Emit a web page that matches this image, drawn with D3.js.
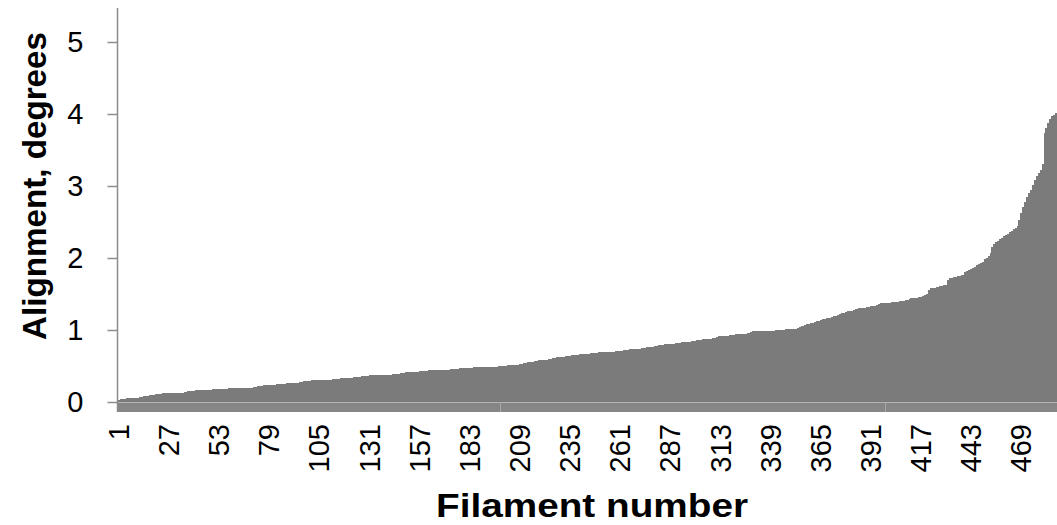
<!DOCTYPE html>
<html>
<head>
<meta charset="utf-8">
<script src="https://cdn.jsdelivr.net/npm/d3@7/dist/d3.min.js"></script>
<style>
  html, body { margin: 0; padding: 0; background: #fff; }
  svg { display: block; }
  text { font-family: "Liberation Sans", Arial, sans-serif; fill: #000; }
</style>
</head>
<body>
<svg id="chart" width="1057" height="525"></svg>
<script>
// Sorted alignment values (degrees), one per filament (1..487)
const alignment = [
  0.03,0.04,0.04,0.04,0.05,0.05,0.05,0.05,0.06,0.06,
  0.06,0.07,0.07,0.08,0.09,0.09,0.10,0.10,0.10,0.11,
  0.11,0.11,0.11,0.12,0.12,0.12,0.12,0.12,0.12,0.13,
  0.13,0.13,0.13,0.13,0.14,0.14,0.15,0.15,0.15,0.15,
  0.16,0.16,0.16,0.16,0.17,0.17,0.17,0.17,0.17,0.18,
  0.18,0.18,0.18,0.18,0.18,0.18,0.18,0.19,0.19,0.19,
  0.19,0.19,0.19,0.19,0.19,0.20,0.20,0.20,0.20,0.20,
  0.21,0.21,0.22,0.22,0.22,0.23,0.23,0.23,0.24,0.24,
  0.24,0.24,0.25,0.25,0.25,0.25,0.25,0.26,0.26,0.26,
  0.26,0.27,0.27,0.27,0.28,0.28,0.29,0.29,0.29,0.29,
  0.30,0.30,0.30,0.30,0.30,0.30,0.30,0.31,0.31,0.31,
  0.31,0.32,0.32,0.32,0.32,0.33,0.33,0.33,0.33,0.34,
  0.34,0.34,0.35,0.35,0.35,0.35,0.36,0.36,0.36,0.36,
  0.37,0.37,0.37,0.37,0.37,0.38,0.38,0.38,0.38,0.38,
  0.38,0.38,0.39,0.39,0.39,0.39,0.40,0.40,0.40,0.41,
  0.41,0.41,0.42,0.42,0.42,0.42,0.43,0.43,0.43,0.43,
  0.43,0.44,0.44,0.44,0.44,0.44,0.44,0.45,0.45,0.45,
  0.45,0.45,0.46,0.46,0.46,0.46,0.46,0.47,0.47,0.47,
  0.47,0.47,0.47,0.47,0.48,0.48,0.48,0.48,0.48,0.48,
  0.49,0.49,0.49,0.49,0.49,0.49,0.49,0.50,0.50,0.50,
  0.50,0.50,0.51,0.51,0.51,0.52,0.52,0.52,0.53,0.53,
  0.54,0.54,0.55,0.55,0.56,0.56,0.57,0.57,0.58,0.58,
  0.58,0.59,0.59,0.60,0.60,0.61,0.61,0.62,0.62,0.63,
  0.63,0.63,0.64,0.64,0.64,0.65,0.65,0.65,0.65,0.66,
  0.66,0.66,0.67,0.67,0.67,0.68,0.68,0.68,0.68,0.69,
  0.69,0.69,0.69,0.70,0.70,0.70,0.70,0.70,0.71,0.71,
  0.71,0.71,0.72,0.72,0.72,0.73,0.73,0.73,0.74,0.74,
  0.74,0.75,0.75,0.75,0.76,0.76,0.77,0.77,0.78,0.78,
  0.79,0.79,0.79,0.80,0.80,0.80,0.81,0.81,0.81,0.82,
  0.82,0.82,0.83,0.83,0.83,0.84,0.84,0.85,0.85,0.85,
  0.86,0.86,0.86,0.87,0.87,0.87,0.88,0.88,0.89,0.89,
  0.90,0.91,0.91,0.91,0.92,0.92,0.92,0.93,0.93,0.93,
  0.94,0.94,0.94,0.95,0.95,0.95,0.96,0.96,0.97,0.98,
  0.98,0.98,0.98,0.98,0.98,0.99,0.99,0.99,0.99,0.99,
  0.99,1.00,1.00,1.00,1.00,1.00,1.01,1.01,1.01,1.01,
  1.01,1.02,1.03,1.04,1.05,1.06,1.07,1.08,1.09,1.10,
  1.10,1.11,1.12,1.13,1.14,1.15,1.15,1.16,1.16,1.17,
  1.18,1.19,1.20,1.21,1.22,1.23,1.24,1.25,1.26,1.27,
  1.27,1.28,1.29,1.29,1.30,1.30,1.31,1.31,1.32,1.32,
  1.33,1.33,1.34,1.35,1.36,1.37,1.37,1.37,1.38,1.38,
  1.38,1.39,1.39,1.39,1.39,1.40,1.40,1.40,1.41,1.42,
  1.43,1.44,1.44,1.45,1.45,1.46,1.46,1.47,1.48,1.50,
  1.55,1.58,1.59,1.59,1.60,1.60,1.61,1.61,1.62,1.63,
  1.70,1.72,1.72,1.73,1.74,1.75,1.75,1.76,1.77,1.80,
  1.82,1.84,1.85,1.86,1.88,1.90,1.92,1.93,1.95,1.98,
  2.00,2.03,2.07,2.15,2.20,2.22,2.24,2.26,2.28,2.30,
  2.32,2.34,2.36,2.38,2.40,2.42,2.45,2.53,2.62,2.71,
  2.78,2.85,2.90,2.95,3.01,3.08,3.14,3.18,3.22,3.31,
  3.73,3.80,3.87,3.93,3.97,3.99,4.01
];
const filaments = alignment.map((d, i) => i + 1);
const xTickLabels = [1, 27, 53, 79, 105, 131, 157, 183, 209, 235, 261, 287, 313, 339, 365, 391, 417, 443, 469];
const yTickValues = [0, 1, 2, 3, 4, 5];
const yTitle = "Alignment, degrees";
const xTitle = "Filament number";

const svg = d3.select("#chart");
const plotLeft = 118, plotRight = 1057;
const y0px = 402, pxPerUnit = 72;

const x = d3.scaleBand().domain(filaments).range([plotLeft, plotRight]).padding(0);
const y = d3.scaleLinear().domain([0, 5]).range([y0px, y0px - 5 * pxPerUnit]);
const yMin = y.invert(412), yMax = y.invert(8);

// floor band below zero (bars extend down to axis minimum)
svg.append("rect")
  .attr("x", plotLeft).attr("y", y(0))
  .attr("width", plotRight - plotLeft).attr("height", y(yMin) - y(0))
  .attr("fill", "#868686");

// bars
svg.append("g").attr("shape-rendering", "crispEdges")
  .selectAll("rect").data(alignment).join("rect")
  .attr("x", (d, i) => x(filaments[i]))
  .attr("width", x.bandwidth() + 0.6)
  .attr("y", d => y(d))
  .attr("height", d => y(0) - y(d))
  .attr("fill", "#7b7b7b");

// zero line
svg.append("line")
  .attr("x1", plotLeft).attr("x2", plotRight)
  .attr("y1", y(0) + 0.5).attr("y2", y(0) + 0.5)
  .attr("stroke", "#b4b4b4").attr("stroke-width", 1);

// category tick marks (every 200 categories)
svg.append("g").selectAll("line").data([200, 400]).join("line")
  .attr("x1", d => Math.round(x(d)) - 1.5).attr("x2", d => Math.round(x(d)) - 1.5)
  .attr("y1", y(0)).attr("y2", y(yMin))
  .attr("stroke", "#a8a8a8").attr("stroke-width", 1);

// y axis
const yAxis = d3.axisLeft(y).tickValues(yTickValues).tickSize(10).tickPadding(24).tickFormat(d3.format("d"));
const gy = svg.append("g").attr("transform", `translate(${plotLeft - 0.5},0)`).call(yAxis);
gy.select(".domain").remove();
gy.append("line").attr("x1", 0).attr("x2", 0).attr("y1", 8).attr("y2", 412)
  .attr("stroke", "#8c8c8c").attr("stroke-width", 1.5);
gy.selectAll(".tick line").attr("stroke", "#8c8c8c").attr("stroke-width", 1.5);
gy.selectAll(".tick text").attr("font-size", 29).attr("font-family", "Liberation Sans, Arial, sans-serif").attr("fill", "#000");

// x tick labels
svg.append("g").selectAll("text").data(xTickLabels).join("text")
  .attr("transform", d => `translate(${x(d) + x.bandwidth() / 2 + 10},424) rotate(-90)`)
  .attr("text-anchor", "end")
  .attr("font-size", 29)
  .text(d => d);

// axis titles
svg.append("text")
  .attr("transform", "translate(46,186) rotate(-90)")
  .attr("text-anchor", "middle")
  .attr("font-size", 34).attr("font-weight", "bold")
  .attr("textLength", 308).attr("lengthAdjust", "spacingAndGlyphs")
  .text(yTitle);

svg.append("text")
  .attr("x", 592).attr("y", 517)
  .attr("text-anchor", "middle")
  .attr("font-size", 34).attr("font-weight", "bold")
  .attr("textLength", 312).attr("lengthAdjust", "spacingAndGlyphs")
  .text(xTitle);
</script>
</body>
</html>
